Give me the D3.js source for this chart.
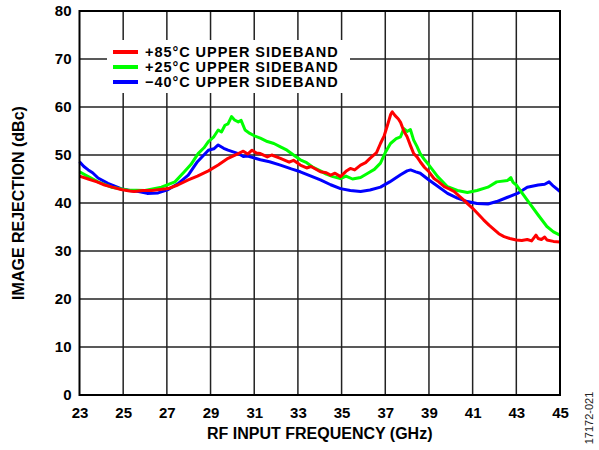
<!DOCTYPE html>
<html>
<head>
<meta charset="utf-8">
<script src="https://cdn.jsdelivr.net/npm/d3@7"></script>
<style>
  html, body { margin: 0; padding: 0; background: #fff; }
  svg { display: block; }
  text { font-family: "Liberation Sans", Arial, sans-serif; }
</style>
</head>
<body>
<div id="chart"></div>
<script>
// ---- data ----
const xTicks = [23, 25, 27, 29, 31, 33, 35, 37, 39, 41, 43, 45];
const yTicks = [0, 10, 20, 30, 40, 50, 60, 70, 80];

const seriesNames = ["+85°C UPPER SIDEBAND", "+25°C UPPER SIDEBAND", "\u221240°C UPPER SIDEBAND"];

const freq85 = [23.0,23.4,23.8,24.15,24.5,24.9,25.3,25.5,25.9,26.3,26.7,27.06,27.5,27.98,28.4,28.9,29.35,29.8,30.27,30.5,30.7,30.9,31.1,31.28,31.6,31.8,32.2,32.6,32.8,33.11,33.4,33.6,34.03,34.3,34.5,34.7,34.95,35.2,35.4,35.6,35.87,36.1,36.3,36.6,36.78,36.95,37.1,37.25,37.32,37.45,37.6,37.7,37.85,38.0,38.15,38.3,38.45,38.6,38.8,39.0,39.23,39.45,39.7,39.95,40.15,40.4,40.6,40.8,41.0,41.25,41.5,41.75,42.0,42.2,42.44,42.7,43.0,43.25,43.5,43.7,43.9,44.0,44.15,44.3,44.4,44.7,45.0];
const val85  = [45.6,45.0,44.4,43.75,43.3,42.8,42.5,42.4,42.6,42.6,42.8,43.0,43.75,44.8,45.6,46.7,47.9,49.3,50.3,50.8,50.2,51.0,50.4,50.3,49.6,50.0,49.3,48.5,48.9,47.9,47.3,47.6,46.5,46.3,45.8,46.2,45.5,46.6,47.2,46.9,47.9,48.4,49.3,50.5,52.4,54.0,56.2,58.5,59.0,58.2,57.5,56.8,55.0,53.8,52.0,50.3,49.6,48.6,47.4,46.5,45.1,44.4,43.4,42.9,42.4,41.4,40.6,39.7,38.9,37.7,36.5,35.4,34.4,33.6,33.0,32.6,32.3,32.2,32.4,32.1,33.3,32.6,32.4,32.9,32.3,32.0,31.9];

const freq25 = [23.0,23.4,23.85,24.46,25.2,26.0,26.75,27.37,27.8,28.1,28.43,28.7,28.9,29.15,29.35,29.5,29.66,29.8,29.96,30.1,30.27,30.4,30.58,30.8,31.0,31.28,31.6,31.9,32.2,32.5,32.8,33.11,33.4,33.7,34.03,34.3,34.6,34.95,35.2,35.5,35.87,36.2,36.5,36.78,37.0,37.24,37.5,37.7,37.85,38.0,38.15,38.3,38.45,38.6,38.8,39.0,39.4,39.85,40.3,40.76,41.2,41.7,42.1,42.6,42.75,42.85,43.0,43.5,44.0,44.4,44.7,45.0];
const val25  = [46.5,45.5,44.4,43.3,42.7,42.6,43.3,44.4,46.5,48.0,50.3,51.5,52.8,53.8,55.2,54.8,56.2,56.5,58.0,57.3,56.9,57.2,55.2,54.5,54.0,53.5,52.8,52.4,51.7,51.0,50.0,49.0,48.4,47.4,46.7,46.0,45.5,45.1,45.6,45.0,45.3,46.2,47.0,48.3,50.5,52.4,53.4,53.8,55.5,54.9,55.3,53.1,51.8,50.3,49.0,47.9,45.5,43.4,42.6,42.2,42.6,43.3,44.4,44.7,45.3,44.3,43.75,40.6,37.5,35.1,34.0,33.3];

const freq40 = [23.0,23.2,23.4,23.6,23.85,24.3,24.9,25.3,25.7,26.1,26.6,27.06,27.5,27.98,28.4,28.9,29.15,29.35,29.6,29.8,30.0,30.27,30.5,30.7,31.28,31.7,32.2,32.7,33.11,33.6,34.03,34.5,34.95,35.4,35.87,36.3,36.78,37.2,37.7,38.0,38.16,38.4,38.6,39.0,39.4,39.85,40.3,40.76,41.2,41.7,42.1,42.6,43.05,43.5,44.0,44.3,44.5,44.7,45.0];
const val40  = [48.6,47.6,46.9,46.3,45.2,44.1,43.0,42.6,42.4,42.0,42.1,42.8,44.0,45.8,48.6,51.0,51.3,52.1,51.4,51.0,50.7,50.3,49.7,49.8,49.0,48.6,47.9,47.1,46.5,45.6,44.8,43.8,43.0,42.6,42.4,42.7,43.3,44.4,45.9,46.7,46.9,46.5,46.2,44.8,43.5,42.0,41.0,40.3,39.9,39.8,40.3,41.2,42.0,43.3,43.75,43.9,44.4,43.5,42.4];

const colors = ["#ff0000", "#00ff00", "#0000ff"];

// ---- layout ----
const W = 599, H = 450;
const pL = 79.5, pR = 560, pT = 11, pB = 395;

const svg = d3.select("#chart").append("svg")
  .attr("width", W).attr("height", H);

const x = d3.scaleLinear().domain([23, 45]).range([pL, pR]);
const y = d3.scaleLinear().domain([0, 80]).range([pB, pT]);

// grid
const grid = svg.append("g");
grid.selectAll("line.v").data(xTicks.slice(1, -1)).enter().append("line")
  .attr("x1", d => x(d)).attr("x2", d => x(d))
  .attr("y1", pT).attr("y2", pB)
  .attr("stroke", "#222").attr("stroke-width", 1.5);
grid.selectAll("line.h").data(yTicks.slice(1, -1)).enter().append("line")
  .attr("x1", pL).attr("x2", pR)
  .attr("y1", d => y(d)).attr("y2", d => y(d))
  .attr("stroke", "#222").attr("stroke-width", 1.5);

// axes labels via d3 axes (no tick marks)
const xAxis = svg.append("g").attr("transform", `translate(0,${pB})`)
  .call(d3.axisBottom(x).tickValues(xTicks).tickSize(0).tickPadding(12).tickFormat(d3.format("d")));
const yAxis = svg.append("g").attr("transform", `translate(${pL},0)`)
  .call(d3.axisLeft(y).tickValues(yTicks).tickSize(0).tickPadding(8).tickFormat(d3.format("d")));
[xAxis, yAxis].forEach(a => {
  a.select(".domain").remove();
  a.selectAll("text")
    .attr("font-family", "'Liberation Sans', Arial, sans-serif")
    .attr("font-size", 15).attr("font-weight", "bold").attr("fill", "#000");
});

// series
const line = d3.line().x(d => x(d[0])).y(d => y(d[1]));
const series = [
  { f: freq40, v: val40, c: colors[2] },
  { f: freq25, v: val25, c: colors[1] },
  { f: freq85, v: val85, c: colors[0] }
];
svg.append("g").selectAll("path").data(series).enter().append("path")
  .attr("d", s => line(s.f.map((f, i) => [f, s.v[i]])))
  .attr("fill", "none").attr("stroke", s => s.c)
  .attr("stroke-width", 3).attr("stroke-linejoin", "round");

// legend
const lg = svg.append("g");
lg.append("rect").attr("x", 107).attr("y", 40).attr("width", 243).attr("height", 53).attr("fill", "#fff");
seriesNames.forEach((name, i) => {
  const yy = 52 + i * 15;
  lg.append("line").attr("x1", 113).attr("x2", 138).attr("y1", yy).attr("y2", yy)
    .attr("stroke", colors[i]).attr("stroke-width", 4);
  lg.append("text").attr("x", 145).attr("y", yy).attr("dy", "0.36em")
    .attr("font-size", 14.5).attr("letter-spacing", "0.95px").attr("font-weight", "bold").text(name);
});

// frame
svg.append("rect").attr("x", pL).attr("y", pT)
  .attr("width", pR - pL).attr("height", pB - pT)
  .attr("fill", "none").attr("stroke", "#000").attr("stroke-width", 2);

// titles
svg.append("text").attr("x", (pL + pR) / 2).attr("y", 439)
  .attr("text-anchor", "middle").attr("font-size", 16).attr("font-weight", "bold")
  .text("RF INPUT FREQUENCY (GHz)");
svg.append("text").attr("transform", `translate(24,${(pT + pB) / 2}) rotate(-90)`)
  .attr("text-anchor", "middle").attr("font-size", 16).attr("font-weight", "bold")
  .text("IMAGE REJECTION (dBc)");
svg.append("text").attr("transform", `translate(593,418) rotate(-90)`)
  .attr("text-anchor", "middle").attr("font-size", 11).attr("fill", "#222")
  .text("17172-021");
</script>
</body>
</html>
